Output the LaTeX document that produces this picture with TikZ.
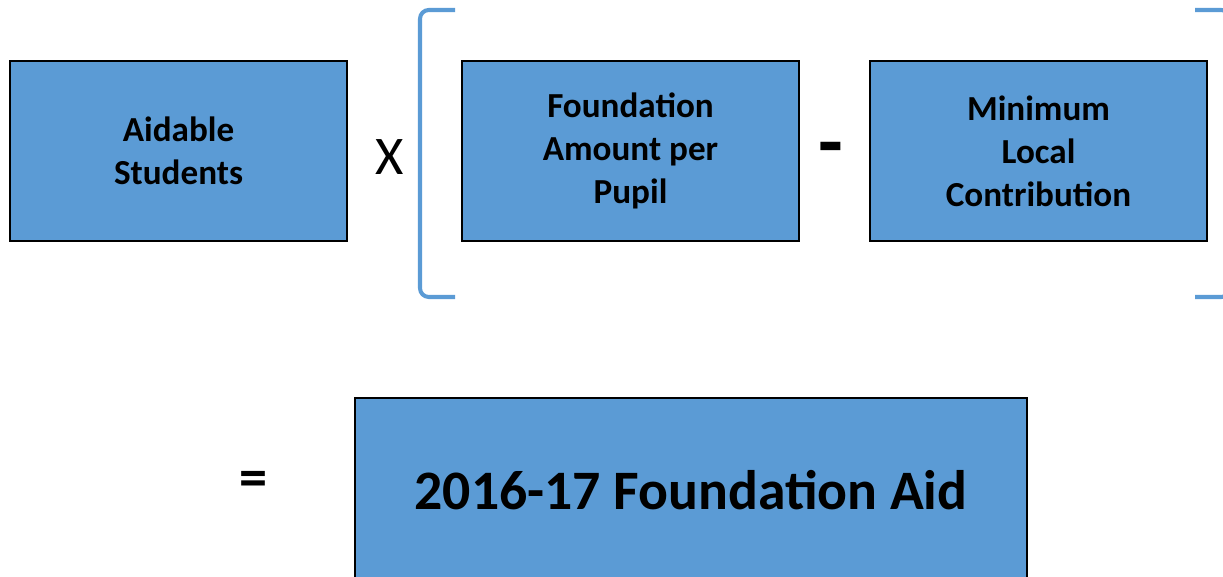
\documentclass[tikz,border=0pt]{standalone}
\usepackage{fontspec}
\setmainfont{Carlito}
\usepackage{xcolor}
\definecolor{boxblue}{RGB}{91,155,213}

\begin{document}
\begin{tikzpicture}[x=0.02cm, y=-0.02cm]
    \tikzstyle{term} = [rectangle, minimum width=6.74cm, minimum height=3.6cm, text centered, align=center, draw=black, line width=1.1pt, fill=boxblue, font=\fontsize{20}{24.4}\selectfont\bfseries]
    \tikzstyle{result} = [term, minimum width=13.44cm, minimum height=3.68cm, font=\fontsize{31.7}{38}\selectfont\bfseries]
    \tikzstyle{bracket} = [draw=boxblue, line width=2.3pt, rounded corners=5pt]
    \tikzstyle{op} = [inner sep=0pt, font=\fontsize{31}{36}\selectfont]

    \useasboundingbox (0,0) rectangle (1223,577);
    \clip (0,0) rectangle (1223,577);

    % Factors
    \node [term] (students) at (178.5,151) {Aidable\\Students};
    \node [term] (foundation) at (630.5,151) {Foundation\\Amount per\\Pupil};
    \node [term] (local) at (1038.5,151) {Minimum\\Local\\Contribution};

    % Operators
    \node [op] (times) at (390,157) {X};
    \node [op, font=\fontsize{46}{50}\selectfont\bfseries] (minus) at (830.5,156) {-};
    \node [op, font=\fontsize{32}{36}\selectfont\bfseries] (equals) at (253,484) {=};

    % Brackets
    \draw [bracket] (455,10) -- (420,10) -- (420,297) -- (455,297);
    \draw [bracket] (1195,10) -- (1230,10) -- (1230,297) -- (1195,297);

    % Result
    \node [result] (aid) at (691,490) {2016-17 Foundation Aid};
\end{tikzpicture}
\end{document}
